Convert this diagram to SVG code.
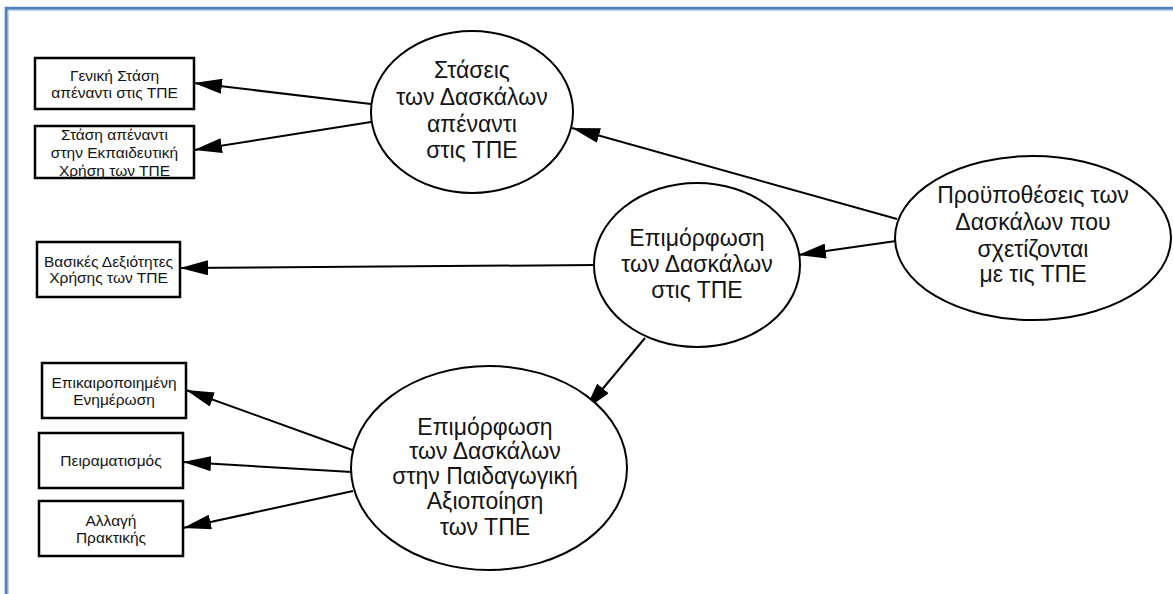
<svg xmlns="http://www.w3.org/2000/svg" width="1173" height="594" viewBox="0 0 1173 594">
  <style>
    .frame { fill: none; stroke: #4F81BD; stroke-width: 3; }
    .frame-inner { fill: none; stroke: #A9C0DE; stroke-width: 1; }
    .box { fill: #ffffff; stroke: #000000; stroke-width: 2.5; }
    .oval { fill: #ffffff; stroke: #000000; stroke-width: 2; }
    .edge { fill: none; stroke: #000000; stroke-width: 2; marker-end: url(#arrow); }
    text { font-family: "Liberation Sans", Arial, sans-serif; fill: #141414; text-anchor: middle; }
    .small { font-size: 15.5px; }
    .large { font-size: 23px; }
  </style>
  <defs>
    <marker id="arrow" markerUnits="userSpaceOnUse" markerWidth="28" markerHeight="15" refX="28" refY="7.5" orient="auto">
      <path d="M0,0 L28,7.5 L0,15 Z" fill="#000000"/>
    </marker>
  </defs>

  <rect width="1173" height="594" fill="#ffffff"/>

  <!-- page frame -->
  <path class="frame" d="M6.2,594 V8.2 H1173"/>
  <path class="frame-inner" d="M8.2,594 V10.2 H1173"/>

  <!-- connectors -->
  <g id="connectors">
    <line class="edge" x1="371" y1="104" x2="194" y2="83"/>
    <line class="edge" x1="371" y1="122" x2="194" y2="150"/>
    <line class="edge" x1="897" y1="219" x2="572" y2="128"/>
    <line class="edge" x1="896" y1="241" x2="798" y2="255"/>
    <line class="edge" x1="595" y1="265" x2="180" y2="268"/>
    <line class="edge" x1="645" y1="338" x2="585" y2="410"/>
    <line class="edge" x1="355" y1="451" x2="186" y2="390"/>
    <line class="edge" x1="352" y1="472" x2="183" y2="462"/>
    <line class="edge" x1="353" y1="491" x2="183" y2="528"/>
  </g>

  <!-- rectangular nodes -->
  <g id="general-attitude">
    <rect class="box" x="35" y="58" width="159" height="51"/>
    <text class="small" x="114.5" y="81">Γενική Στάση</text>
    <text class="small" x="114.5" y="98">απέναντι στις ΤΠΕ</text>
  </g>
  <g id="educational-use-attitude">
    <rect class="box" x="35" y="126" width="159" height="52"/>
    <text class="small" x="114.5" y="140">Στάση απέναντι</text>
    <text class="small" x="114.5" y="158">στην Εκπαιδευτική</text>
    <text class="small" x="114.5" y="176">Χρήση των ΤΠΕ</text>
  </g>
  <g id="basic-skills">
    <rect class="box" x="37" y="242" width="143" height="55"/>
    <text class="small" x="108.5" y="266.5">Βασικές Δεξιότητες</text>
    <text class="small" x="108.5" y="283">Χρήσης των ΤΠΕ</text>
  </g>
  <g id="updated-information">
    <rect class="box" x="42" y="363" width="144" height="55"/>
    <text class="small" x="114" y="388">Επικαιροποιημένη</text>
    <text class="small" x="114" y="405">Ενημέρωση</text>
  </g>
  <g id="experimentation">
    <rect class="box" x="39" y="433" width="144" height="55"/>
    <text class="small" x="111" y="466">Πειραματισμός</text>
  </g>
  <g id="practice-change">
    <rect class="box" x="39" y="501" width="144" height="55"/>
    <text class="small" x="111" y="526">Αλλαγή</text>
    <text class="small" x="111" y="543">Πρακτικής</text>
  </g>

  <!-- elliptical nodes -->
  <g id="teacher-attitudes">
    <ellipse class="oval" cx="472" cy="112" rx="101" ry="81"/>
    <text class="large" x="472" y="78">Στάσεις</text>
    <text class="large" x="472" y="105">των Δασκάλων</text>
    <text class="large" x="472" y="131.5">απέναντι</text>
    <text class="large" x="472" y="158">στις ΤΠΕ</text>
  </g>
  <g id="ict-training">
    <ellipse class="oval" cx="697" cy="265" rx="103" ry="82"/>
    <text class="large" x="697" y="246">Επιμόρφωση</text>
    <text class="large" x="697" y="272">των Δασκάλων</text>
    <text class="large" x="697" y="298">στις ΤΠΕ</text>
  </g>
  <g id="teacher-prerequisites">
    <ellipse class="oval" cx="1033" cy="238" rx="138" ry="82"/>
    <text class="large" x="1033" y="203">Προϋποθέσεις των</text>
    <text class="large" x="1033" y="230">Δασκάλων που</text>
    <text class="large" x="1033" y="256.5">σχετίζονται</text>
    <text class="large" x="1033" y="282">με τις ΤΠΕ</text>
  </g>
  <g id="pedagogical-training">
    <ellipse class="oval" cx="489" cy="468" rx="138" ry="102"/>
    <text class="large" x="485" y="435">Επιμόρφωση</text>
    <text class="large" x="485" y="459">των Δασκάλων</text>
    <text class="large" x="485" y="484">στην Παιδαγωγική</text>
    <text class="large" x="485" y="509">Αξιοποίηση</text>
    <text class="large" x="485" y="535">των ΤΠΕ</text>
  </g>
</svg>
